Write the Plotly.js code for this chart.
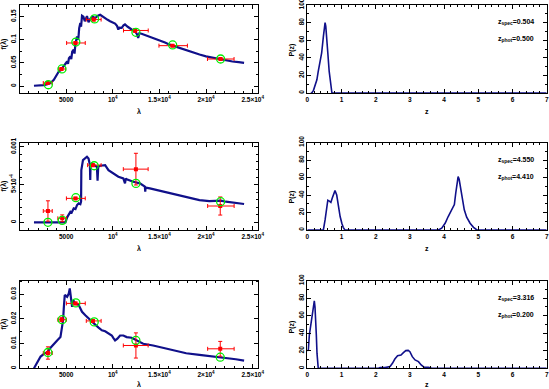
<!DOCTYPE html>
<html><head><meta charset="utf-8">
<script src="https://cdn.plot.ly/plotly-3.0.1.min.js"></script>
<style>html,body{margin:0;padding:0;background:#fff}#c{width:549px;height:389px}</style>
</head><body><div id="c"></div>
<script>
// ---------- Row 1 ----------
var spec1_lam = [1550,2000,2600,3000,3330,3680,3900,4100,4213,4400,4574,4800,5106,5200,5300,5457,5550,5650,5809,5900,6000,6170,6300,6400,6521,6600,6702,6850,7000,7234,7400,7585,7800,8117,8400,8649,8900,9181,9450,9713,10000,10245,10450,10596,10700,10957,11150,11309,11600,11840,12100,12372,12600,12723,12850,13085,13500,13968,14500,15032,15600,16096,16600,17160,17800,18574,19300,20000,20700,21415,22100,22830,23500,24074];
var spec1_f = [0.0006,0.001,0.002,0.004,0.0065,0.0136,0.02,0.027,0.0316,0.034,0.039,0.045,0.053,0.048,0.060,0.064,0.058,0.074,0.0786,0.070,0.092,0.107,0.100,0.125,0.136,0.128,0.152,0.150,0.140,0.151,0.138,0.145,0.150,0.147,0.152,0.154,0.150,0.147,0.143,0.140,0.137,0.135,0.130,0.122,0.126,0.1255,0.131,0.133,0.128,0.1255,0.121,0.118,0.112,0.104,0.114,0.113,0.110,0.107,0.103,0.0987,0.094,0.0894,0.086,0.082,0.077,0.0727,0.068,0.064,0.061,0.058,0.0555,0.053,0.0515,0.050];
var phot1_lam = [3000,4500,6000,7950,12400,16400,21550];
var phot1_lo  = [2550,4200,5050,7150,11150,14950,20150];
var phot1_hi  = [3500,4950,7050,8750,13800,18000,23000];
var phot1_f   = [0.0065,0.0368,0.093,0.1435,0.120,0.0872,0.0584];
var phot1_err = [0.002,0.002,0.002,0.003,0.004,0.002,0.002];
var model1_lam = [3090,4550,6040,8050,12480,16420,21560];
var model1_f   = [0.0028,0.037,0.095,0.145,0.116,0.0887,0.0584];
var pz1_z = [0.1,0.13,0.18,0.23,0.28,0.32,0.37,0.42,0.47,0.50,0.52,0.54,0.57,0.60,0.64,0.68,0.72,7.0];
var pz1_p = [0,0,3,9.4,15,24.5,34,45.5,64,73.5,80,76,64,45.5,24.5,11,0,0];
var zspec1 = "0.504", zphot1 = "0.500";

// ---------- Row 2 ----------
var spec2_lam = [1550,3000,4925,5106,5300,5457,5600,5809,6000,6170,6340,6521,6600,6628,6805,7053,7234,7400,7550,7585,7620,7766,8117,8298,8369,8440,8649,9181,9536,10068,10600,11130,11310,11400,11489,12198,12908,13440,13480,13520,13972,15035,16100,17160,18230,19290,20355,21064,21596,22128,22837,23546,24078];
var spec2_f = [0,0,0,6.6e-5,1.1e-4,1.41e-4,1.3e-4,1.85e-4,1.75e-4,2.29e-4,2.51e-4,2.4e-4,2.73e-4,6.92e-4,8.25e-4,8.47e-4,8.69e-4,8.47e-4,7.58e-4,5.6e-4,7.58e-4,7.8e-4,7.58e-4,7.36e-4,5.51e-4,7.36e-4,7.5e-4,7.58e-4,6.92e-4,6.48e-4,6.04e-4,5.82e-4,5.16e-4,5.82e-4,5.7e-4,5.38e-4,5.16e-4,4.72e-4,4.06e-4,4.6e-4,4.5e-4,4.19e-4,3.84e-4,3.53e-4,3.26e-4,2.95e-4,2.82e-4,2.82e-4,2.87e-4,2.73e-4,2.6e-4,2.43e-4,2.43e-4];
var phot2_lam = [3050,4580,6000,7870,12480,21520];
var phot2_lo  = [2550,4110,5030,7300,11130,20170];
var phot2_hi  = [3510,5030,7050,8750,13790,23010];
var phot2_f   = [1.5e-4,5.3e-5,3.17e-4,7.58e-4,7.05e-4,2.16e-4];
var phot2_err = [1.35e-4,4.5e-5,1.5e-5,1.5e-5,2.1e-4,1.2e-4];
var model2_lam = [3050,4580,6040,8010,12480,21560];
var model2_f   = [0,2.6e-5,3.26e-4,7.5e-4,5.16e-4,2.73e-4];
var pz2_z = [0,0.47,0.52,0.565,0.6,0.645,0.69,0.73,0.79,0.81,0.86,0.91,0.96,1.01,1.05,1.10,3.83,3.93,4.03,4.12,4.22,4.30,4.34,4.38,4.41,4.44,4.48,4.54,4.59,4.66,4.76,4.86,4.96,7.0];
var pz2_p = [0,0,11.5,27,34,33,31.5,36.5,42,45,40,27,15.4,7.7,3,0,0,2,7.7,15.4,23,29,42,54,61,58,48,34.6,23,14.6,7.7,3,0,0];
var zspec2 = "4.550", zphot2 = "4.410";

// ---------- Row 3 ----------
var spec3_lam = [1553,1730,1978,2262,2617,2972,3326,3681,4035,4390,4567,4674,4745,4851,5106,5284,5390,5532,5638,5745,5993,6348,6702,7057,7411,7766,8120,8475,8830,9184,9539,9894,10071,10248,10496,10780,11135,11489,12021,12553,13262,14326,15390,16454,17872,19291,20709,22128,23191,24078];
var spec3_f = [0,0.00109,0.00313,0.00476,0.00585,0.00653,0.0083,0.00993,0.0113,0.01265,0.0160,0.0195,0.0242,0.0297,0.029,0.0303,0.0324,0.029,0.0249,0.0276,0.0263,0.0256,0.0229,0.0215,0.0201,0.0188,0.0177,0.0165,0.0154,0.0150,0.0140,0.0133,0.01224,0.0113,0.0120,0.0133,0.0133,0.01265,0.0124,0.0113,0.00993,0.00925,0.0083,0.0072,0.0061,0.00544,0.0049,0.00422,0.00367,0.00313];
var phot3_lam = [3050,4500,6000,7870,12480,21520];
var phot3_lo  = [2550,4110,5030,7160,11130,20170];
var phot3_hi  = [3510,5030,7050,8750,13790,23010];
var phot3_f   = [0.0062,0.0197,0.0263,0.0192,0.00925,0.0079];
var phot3_err = [0.0025,0.0008,0.0005,0.0005,0.0051,0.003];
var model3_lam = [3050,4570,6040,8010,12480,21520];
var model3_f   = [0.0064,0.0197,0.0265,0.0188,0.0113,0.0045];
var pz3_z = [0,0.03,0.06,0.10,0.13,0.16,0.185,0.205,0.225,0.245,0.264,0.284,0.30,0.32,2.08,2.13,2.27,2.42,2.49,2.56,2.64,2.74,2.81,2.88,2.95,3.0,3.07,3.15,3.25,3.33,3.42,3.54,3.64,7.0];
var pz3_p = [20,21,38,49,57,70,74,77,70,59,38,17,4,0,0,0.8,0.8,2,5.7,10.6,14.4,15.2,17.9,20.2,20.5,19,13.3,9.5,7.6,3.8,1.1,1.1,0,0];
var zspec3 = "3.316", zphot3 = "0.200";

// ---------- Tick labels ----------
var lam_tickvals = [5000,10000,15000,20000,25000];
var lam_ticktext = ["5000","10<sup>4</sup>","1.5×10<sup>4</sup>","2×10<sup>4</sup>","2.5×10<sup>4</sup>"];
var f1_tickvals = [0,0.05,0.1,0.15], f1_ticktext = ["0","0.05","0.1","0.15"];
var f2_tickvals = [0,0.0005,0.001], f2_ticktext = ["0","5×10<sup>-4</sup>","0.001"];
var f3_tickvals = [0,0.01,0.02,0.03], f3_ticktext = ["0","0.01","0.02","0.03"];
var z_tickvals = [0,1,2,3,4,5,6,7];
var p_tickvals = [0,20,40,60,80,100];

var NAVY = '#10108a';
var rows = [
  {spec:[spec1_lam,spec1_f], phot:[phot1_lam,phot1_lo,phot1_hi,phot1_f,phot1_err], model:[model1_lam,model1_f], pz:[pz1_z,pz1_p], zs:zspec1, zp:zphot1},
  {spec:[spec2_lam,spec2_f], phot:[phot2_lam,phot2_lo,phot2_hi,phot2_f,phot2_err], model:[model2_lam,model2_f], pz:[pz2_z,pz2_p], zs:zspec2, zp:zphot2},
  {spec:[spec3_lam,spec3_f], phot:[phot3_lam,phot3_lo,phot3_hi,phot3_f,phot3_err], model:[model3_lam,model3_f], pz:[pz3_z,pz3_p], zs:zspec3, zp:zphot3}
];

var W = 549, H = 389;
function px(x){return x/W;}
function py(y){return 1 - y/H;}
var rowPix = [[5,93],[142.5,230],[280.7,368.3]];
var leftDom = [px(19.5), px(258.3)], rightDom = [px(307.3), px(546.7)];
var fRanges = [[-0.015,0.175],[-0.000102,0.001058],[0,0.0355]];
var fTicks = [[f1_tickvals,f1_ticktext,0.025],[f2_tickvals,f2_ticktext,0.0001],[f3_tickvals,f3_ticktext,0.005]];
var titleY = [[44,50,111.7],[186,197,248.3],[324,327,384.5]];

var traces = [], layout = {
  width: W, height: H, margin:{l:0,r:0,t:0,b:0}, showlegend:false,
  paper_bgcolor:'#fff', plot_bgcolor:'#fff',
  font:{family:'Liberation Sans', size:6.5, color:'#000', weight:'bold'},
  annotations: []
};
function axisBase(){
  return {showline:true, linecolor:'#000', linewidth:1, mirror:'ticks', ticks:'inside',
          ticklen:4, tickwidth:1, tickcolor:'#000', showgrid:false, zeroline:false,
          ticklabeloverflow:'allow', ticklabelstandoff:0,
          tickfont:{family:'Liberation Sans', size:6.5, weight:'bold'}, fixedrange:true};
}
rows.forEach(function(r, i){
  var nL = 2*i+1, nR = 2*i+2;
  var xL = 'x'+(nL===1?'':nL), yL = 'y'+(nL===1?'':nL);
  var xR = 'x'+nR, yR = 'y'+nR;
  var yd = [py(rowPix[i][1]), py(rowPix[i][0])];
  traces.push({x:r.spec[0], y:r.spec[1], xaxis:xL, yaxis:yL, type:'scatter', mode:'lines',
               line:{color:NAVY, width:2.2}, hoverinfo:'skip'});
  var p = r.phot;
  traces.push({x:p[0], y:p[3], xaxis:xL, yaxis:yL, type:'scatter', mode:'markers',
    marker:{color:'#ff0000', size:4, symbol:'square'},
    error_x:{type:'data', symmetric:false,
      array:p[0].map(function(v,k){return p[2][k]-v;}),
      arrayminus:p[0].map(function(v,k){return v-p[1][k];}),
      color:'#ff0000', thickness:1, width:2},
    error_y:{type:'data', array:p[4], color:'#ff0000', thickness:1, width:2}});
  traces.push({x:r.model[0], y:r.model[1], xaxis:xL, yaxis:yL, type:'scatter', mode:'markers',
    marker:{symbol:'circle-open', size:8, color:'#00ee00', line:{width:1.3, color:'#00ee00'}}});
  traces.push({x:r.pz[0], y:r.pz[1], xaxis:xR, yaxis:yR, type:'scatter', mode:'lines',
    line:{color:NAVY, width:1.6}});

  var ax, ay;
  ax = axisBase(); ax.domain = leftDom; ax.anchor = yL; ax.range = [0,25600];
  ax.tickmode='array'; ax.tickvals = lam_tickvals; ax.ticktext = lam_ticktext;
  ax.minor = {ticks:'inside', ticklen:2, dtick:1000, tickcolor:'#000'};
  layout['xaxis'+(nL===1?'':nL)] = ax;
  ay = axisBase(); ay.domain = yd; ay.anchor = xL; ay.range = fRanges[i];
  ay.tickmode='array'; ay.tickvals = fTicks[i][0]; ay.ticktext = fTicks[i][1]; ay.tickangle = -90;
  ay.minor = {ticks:'inside', ticklen:2, dtick:fTicks[i][2], tickcolor:'#000'};
  layout['yaxis'+(nL===1?'':nL)] = ay;

  ax = axisBase(); ax.domain = rightDom; ax.anchor = yR; ax.range = [0,7];
  ax.tickmode='array'; ax.tickvals = z_tickvals;
  ax.minor = {ticks:'inside', ticklen:2, dtick:0.2, tickcolor:'#000'};
  layout['xaxis'+nR] = ax;
  ay = axisBase(); ay.domain = yd; ay.anchor = xR; ay.range = [0,100];
  ay.tickmode='array'; ay.tickvals = p_tickvals; ay.tickangle = -90;
  ay.minor = {ticks:'inside', ticklen:2, dtick:10, tickcolor:'#000'};
  layout['yaxis'+nR] = ay;

  var tf = {family:'Liberation Sans', size:7, weight:'bold', color:'#000'};
  layout.annotations.push(
    {text:'f(λ)', xref:'paper', yref:'paper', x:px(3.5), y:py(titleY[i][0]), textangle:-90, showarrow:false, font:tf, xanchor:'center', yanchor:'middle'},
    {text:'λ', xref:'paper', yref:'paper', x:px(139), y:py(titleY[i][2]), showarrow:false, font:tf, xanchor:'center', yanchor:'middle'},
    {text:'P(z)', xref:'paper', yref:'paper', x:px(291.5), y:py(titleY[i][1]), textangle:-90, showarrow:false, font:tf, xanchor:'center', yanchor:'middle'},
    {text:'z', xref:'paper', yref:'paper', x:px(427), y:py(titleY[i][2]), showarrow:false, font:tf, xanchor:'center', yanchor:'middle'}
  );
  var af = {family:'Liberation Sans', size:7, weight:'bold', color:'#000'};
  var ty = rowPix[i][0] + 17.5;
  layout.annotations.push(
    {text:'z<sub>spec</sub>=' + r.zs, xref:'paper', yref:'paper', x:px(496), y:py(ty), showarrow:false, font:af, xanchor:'left', yanchor:'middle'},
    {text:'z<sub>phot</sub>=' + r.zp, xref:'paper', yref:'paper', x:px(496), y:py(ty+17), showarrow:false, font:af, xanchor:'left', yanchor:'middle'}
  );
});
Plotly.newPlot('c', traces, layout, {staticPlot:true, displayModeBar:false});
</script></body></html>
